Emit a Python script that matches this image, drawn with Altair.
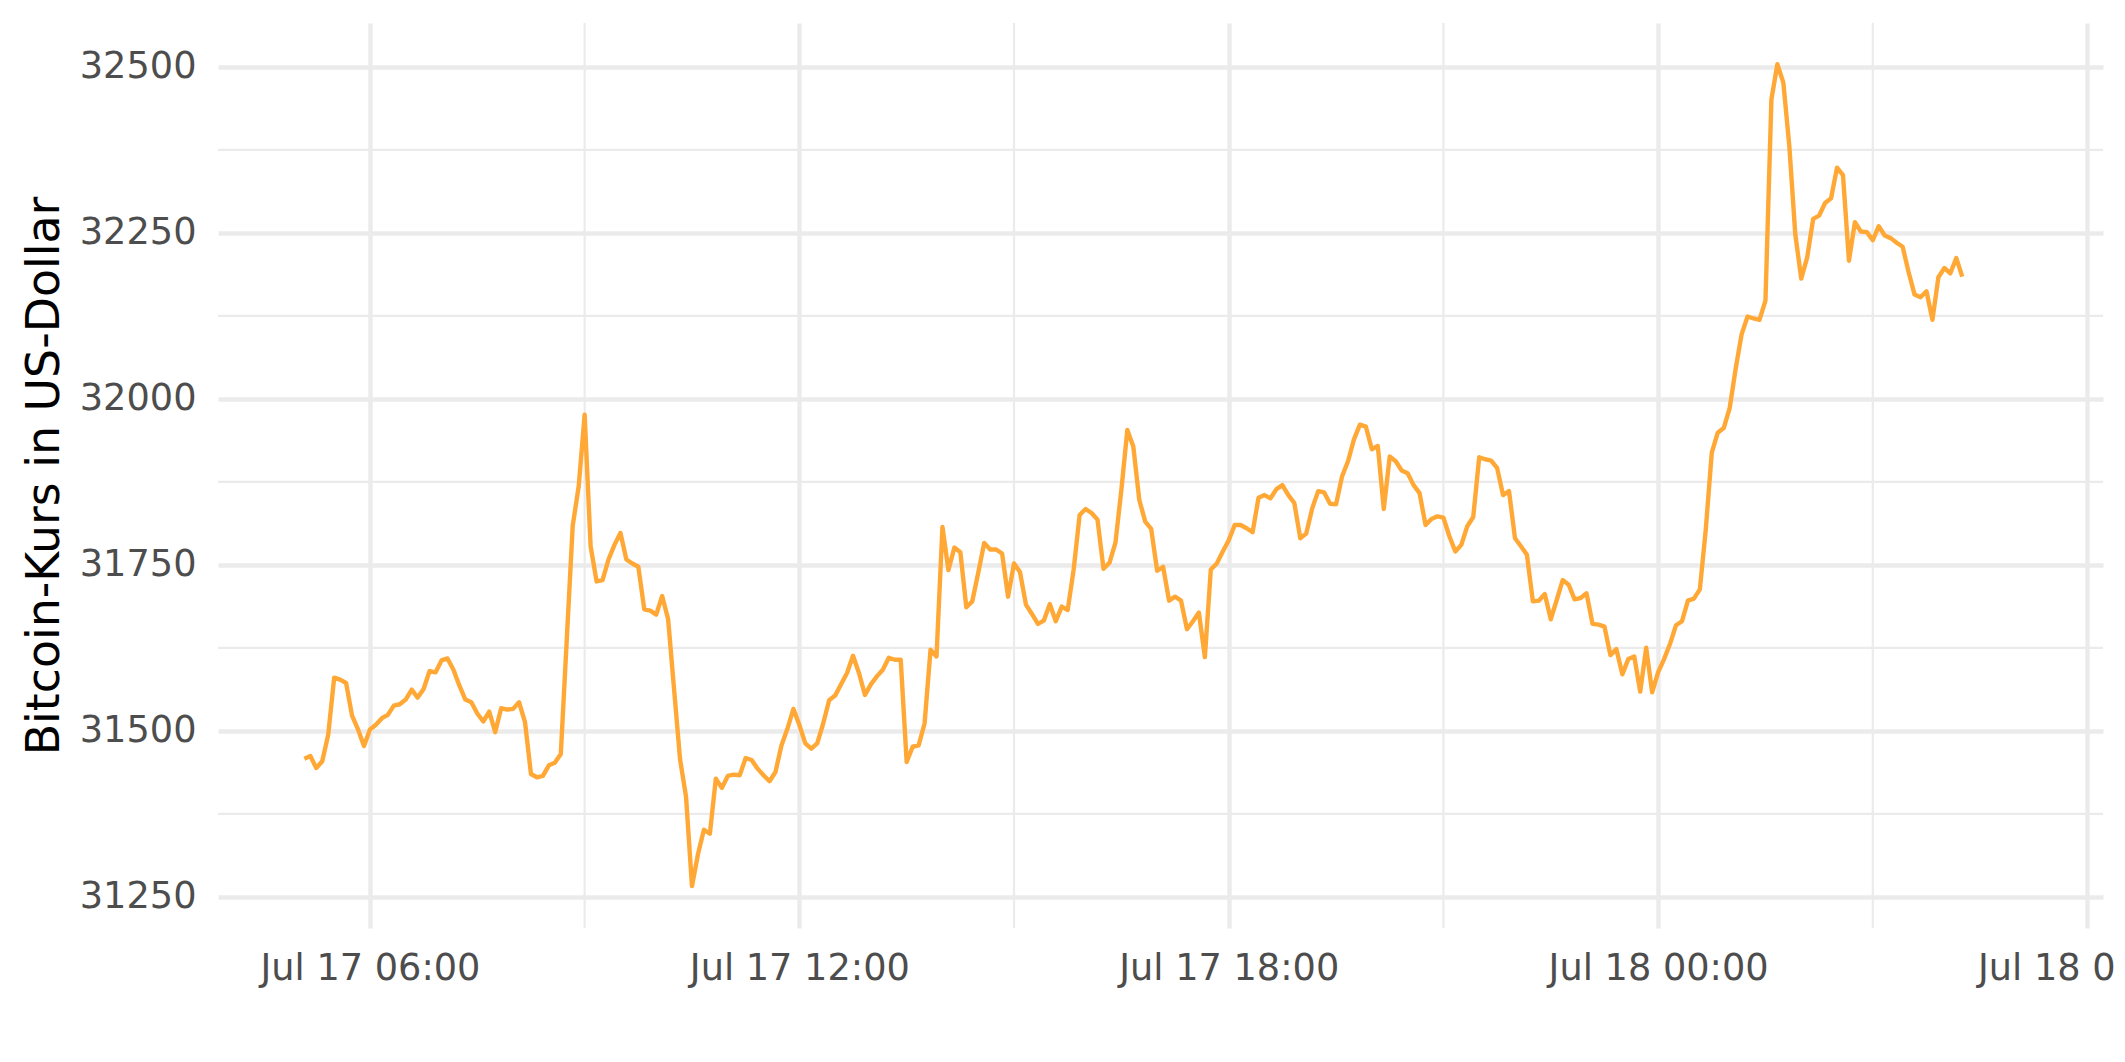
import altair as alt
import pandas as pd

# Bitcoin price, 5-minute steps starting Jul 17 2021 05:05
start_time = "2021-07-17 05:05:00"

price_a = [31458, 31462, 31444, 31454, 31494, 31580, 31577, 31572, 31523, 31502,
           31477, 31502, 31509, 31519, 31524, 31538, 31540, 31547, 31562, 31550,
           31563, 31590, 31588, 31606, 31609, 31592, 31568, 31547, 31543, 31526,
           31514, 31529, 31498, 31534, 31532, 31533, 31543, 31513, 31435, 31430,
           31432, 31448, 31452, 31465, 31637, 31809, 31868, 31976, 31778, 31725,
           31727, 31758, 31780, 31798]
price_b = [31758, 31752, 31747, 31683, 31681, 31675, 31703, 31668, 31562, 31457,
           31401, 31266, 31314, 31351, 31345, 31428, 31414, 31432, 31434, 31433,
           31459, 31456, 31443, 31433, 31424, 31438, 31478, 31503, 31533, 31509,
           31481, 31473, 31481, 31511, 31546, 31553, 31570, 31587, 31613, 31587,
           31554, 31570, 31582, 31592, 31610, 31607, 31607, 31453, 31476, 31478,
           31511, 31622, 31612, 31807, 31742, 31776]
price_c = [31769, 31686, 31695, 31738, 31783, 31773, 31773, 31767, 31702, 31752,
           31739, 31690, 31676, 31661, 31666, 31691, 31665, 31687, 31682, 31743,
           31825, 31834, 31828, 31818, 31744, 31753, 31783, 31863, 31953, 31928,
           31848, 31815, 31804, 31741, 31747, 31696, 31702, 31696, 31653, 31665,
           31678, 31611, 31743, 31752, 31770, 31787, 31810, 31810, 31805, 31799,
           31851, 31855, 31850, 31864, 31870]
price_d = [31855, 31843, 31790, 31797, 31835, 31861, 31859, 31842, 31841, 31883,
           31906, 31939, 31961, 31958, 31924, 31929, 31834, 31913, 31906, 31892,
           31888, 31870, 31858, 31810, 31819, 31823, 31821, 31793, 31770, 31780,
           31808, 31822, 31912, 31909, 31907, 31896, 31855, 31861, 31790, 31778,
           31765, 31695, 31696, 31706, 31668, 31697, 31727, 31720, 31698, 31700,
           31707, 31661, 31660, 31657]
price_e = [31614, 31623, 31585, 31608, 31612, 31559, 31625, 31558, 31588, 31608,
           31631, 31659, 31665, 31696, 31699, 31713, 31804, 31919, 31949, 31956,
           31986, 32045, 32097, 32124, 32121, 32119, 32148, 32451, 32504, 32476,
           32381, 32248, 32181, 32213, 32271, 32276, 32295, 32302, 32348, 32337,
           32208, 32266, 32252, 32251, 32239, 32260, 32246, 32242, 32235, 32229,
           32191, 32157, 32153, 32162, 32119, 32183, 32197, 32189, 32212, 32184]

y_ticks = [31250, 31500, 31750, 32000, 32250, 32500]
y_minor = [31375, 31625, 31875, 32125, 32375]
x_minor = ["2021-07-17T09:00:00", "2021-07-17T15:00:00",
           "2021-07-17T21:00:00", "2021-07-18T03:00:00"]

prices = price_a + price_b + price_c + price_d + price_e
times = pd.date_range(start_time, periods=len(prices), freq="5min")
df = pd.DataFrame({"time": times.strftime("%Y-%m-%dT%H:%M:%S"), "price": prices})

W, H = 1885, 905
GRID = "#EBEBEB"
FONT = "DejaVu Sans"

x_major = [
    alt.DateTime(year=2021, month=7, date=17, hours=6),
    alt.DateTime(year=2021, month=7, date=17, hours=12),
    alt.DateTime(year=2021, month=7, date=17, hours=18),
    alt.DateTime(year=2021, month=7, date=18, hours=0),
    alt.DateTime(year=2021, month=7, date=18, hours=6),
]

x_scale = alt.Scale(domain=[
    alt.DateTime(year=2021, month=7, date=17, hours=3, minutes=52, seconds=36),
    alt.DateTime(year=2021, month=7, date=18, hours=6, minutes=13, seconds=0),
])
y_scale = alt.Scale(domain=[31203, 32566], nice=False, zero=False)

x_axis = alt.Axis(values=x_major, format="%b %d %H:%M", title=None,
                  labelFont=FONT, labelFontSize=36.7, labelColor="#4D4D4D",
                  labelPadding=22, labelLimit=0, ticks=False, domain=False,
                  grid=True, gridColor=GRID, gridWidth=4.4,
                  labelOverlap=False, labelBound=False, labelFlush=False)
y_axis = alt.Axis(values=y_ticks, format="d", title="Bitcoin-Kurs in US-Dollar",
                  labelFont=FONT, labelFontSize=36.7, labelColor="#4D4D4D",
                  labelPadding=22, labelLimit=0, ticks=False, domain=False,
                  grid=True, gridColor=GRID, gridWidth=4.4,
                  labelOverlap=False,
                  titleFont=FONT, titleFontSize=45.8, titleFontWeight="normal",
                  titleColor="#000000", titleAngle=270, titleBaseline="alphabetic",
                  titleAlign="center", titleX=-160, titleY=H / 2)

x_enc = alt.X("time:T", scale=x_scale, axis=x_axis)
y_enc = alt.Y("price:Q", scale=y_scale, axis=y_axis)

minor_v = alt.Chart(pd.DataFrame({"time": x_minor})).mark_rule(
    color=GRID, strokeWidth=2.2).encode(x=x_enc)
minor_h = alt.Chart(pd.DataFrame({"price": y_minor})).mark_rule(
    color=GRID, strokeWidth=2.2).encode(y=y_enc)
line = alt.Chart(df).mark_line(color="#FFA836", strokeWidth=4.4,
                               strokeJoin="round").encode(x=x_enc, y=y_enc)

chart = alt.layer(minor_v, minor_h, line).properties(
    width=W, height=H,
    autosize=alt.AutoSizeParams(type="none"),
    padding={"left": 210, "top": 15, "right": 14, "bottom": 80},
    background="white",
).configure_view(strokeWidth=0)

chart.save("out.html", embed_options={"renderer": "svg", "actions": False})
